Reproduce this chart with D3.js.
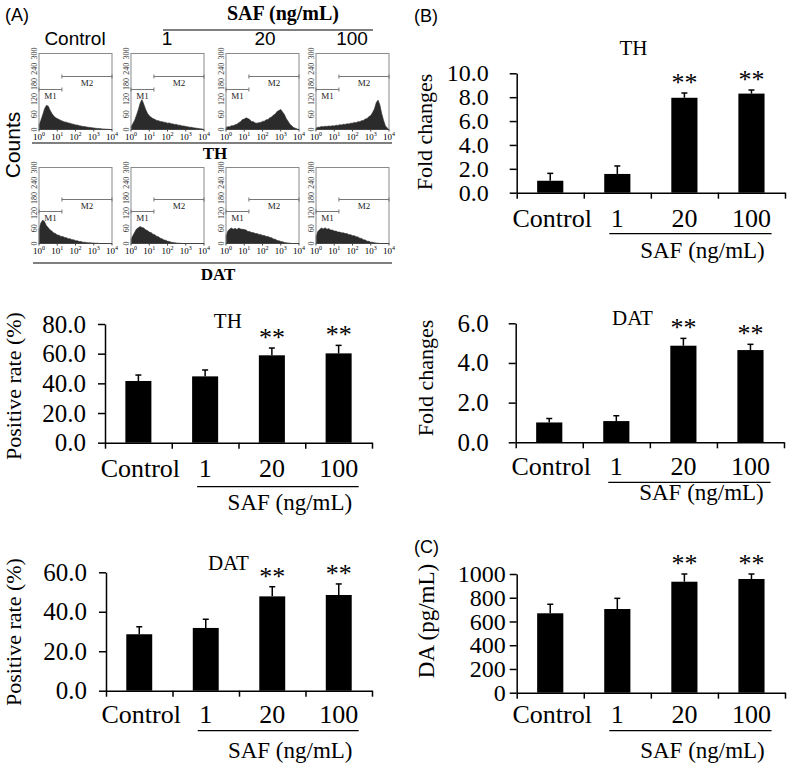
<!DOCTYPE html>
<html><head><meta charset="utf-8">
<script src="https://cdn.jsdelivr.net/npm/d3@7"></script>
<style>body{margin:0;background:#fff}svg{display:block}</style>
</head><body>
<svg id="c" width="800" height="767"></svg>
<script>
// ---------------- DATA ----------------
const categories = ["Control", "1", "20", "100"];
const doseTitle = "SAF (ng/mL)";
const sigMarks = ["", "", "**", "**"];

// Panel A bar charts: positive rate (%)
const thRateMean = [41.6, 44.7, 58.9, 60.2];
const thRateErr  = [4.0, 4.3, 4.9, 5.4];
const datRateMean = [28.6, 31.8, 47.8, 48.5];
const datRateErr  = [3.8, 4.4, 4.9, 5.6];
const rateTicksTH = [0, 20, 40, 60, 80];
const rateTicksDAT = [0, 20, 40, 60];

// Panel B: fold changes
const thFoldMean = [1.0, 1.57, 7.95, 8.3];
const thFoldErr  = [0.62, 0.67, 0.4, 0.3];
const datFoldMean = [1.0, 1.07, 4.87, 4.65];
const datFoldErr  = [0.2, 0.27, 0.37, 0.29];
const foldTicksTH = [0, 2, 4, 6, 8, 10];
const foldTicksDAT = [0, 2, 4, 6];

// Panel C: DA (pg/mL)
const daMean = [669, 705, 935, 958];
const daErr  = [76, 90, 65, 42];
const daTicks = [0, 200, 400, 600, 800, 1000];

// Panel A histograms (counts per log bin, bins every 0.1 decade from 10^0 to 10^4)
const binExp = d3.range(0, 41).map(i => i / 10);
const histYTicks = [0, 60, 120, 180, 240, 300];
const histXTicks = [0, 1, 2, 3, 4];
const histLabels = ["Control", "1", "20", "100"];
const gateBoundary = 18;
const thHistControl = [18,36,57,81,95,93,77,64,54,47,43,39,36,33,30,29,26,25,22,21,18,18,15,14,12,12,10,9,8,7,6,5,4,4,3,2,2,1,1,0,0];
const thHist1 = [12,23,37,56,78,104,118,100,80,64,54,48,43,40,36,35,32,31,29,28,25,26,23,22,20,20,17,17,14,14,12,11,9,9,7,6,5,4,3,2,0];
const thHist20 = [8,11,11,15,15,19,21,27,31,39,41,46,43,39,32,31,26,25,27,28,32,33,38,39,46,49,57,61,71,75,79,69,59,43,33,21,15,8,5,2,0];
const thHist100 = [6,9,9,12,11,13,12,14,13,15,14,17,16,19,18,21,20,23,22,25,25,28,27,31,31,35,36,41,43,51,55,67,81,106,116,97,63,37,15,6,0];
const datHistControl = [55,81,92,87,71,63,54,49,42,39,34,33,28,28,24,23,19,19,15,15,11,11,8,8,5,5,4,3,3,2,2,1,1,0,0,0,0,0,0,0,0];
const datHist1 = [18,31,44,57,62,67,63,61,54,51,45,43,37,35,29,27,21,19,14,13,9,8,5,4,3,2,1,1,0,0,0,0,0,0,0,0,0,0,0,0,0];
const datHist20 = [30,49,57,61,56,60,55,61,57,56,55,53,47,47,43,43,39,39,36,36,32,32,28,28,24,23,18,17,12,11,8,7,4,3,2,1,0,0,0,0,0];
const datHist100 = [28,47,55,61,57,62,56,59,53,53,49,49,45,45,42,42,39,39,35,35,31,31,27,26,21,20,15,14,9,9,5,5,3,2,1,0,0,0,0,0,0];

// ---------------- DRAWING ----------------
const svg = d3.select("#c");
const SERIF = "'Liberation Serif','Times New Roman',serif";
const SANS = "'Liberation Sans',Arial,sans-serif";

function text(g, x, y, str, size, opts = {}) {
  const t = g.append("text")
    .attr("x", x).attr("y", y)
    .attr("font-family", opts.family || SERIF)
    .attr("font-size", size)
    .attr("font-weight", opts.weight || "normal")
    .attr("text-anchor", opts.anchor || "middle")
    .attr("fill", "#000")
    .text(str);
  if (opts.rotate) t.attr("transform", `rotate(${opts.rotate},${x},${y})`);
  return t;
}

function barChart(o) {
  const g = svg.append("g");
  const x = d3.scaleBand().domain(categories).range([o.x0, o.x1]).paddingInner(0.61).paddingOuter(0.305);
  const y = d3.scaleLinear().domain([0, o.max]).range([o.yb, o.yt]);
  const xl = d3.scaleLinear().domain([0, 4]).range([o.x0, o.x1]);

  const ya = g.append("g").attr("transform", `translate(${o.x0},0)`)
    .call(d3.axisLeft(y).tickValues(o.ticks).tickFormat(d3.format(o.fmt)).tickSize(7).tickPadding(o.pad).tickSizeOuter(0));
  ya.select(".domain").attr("stroke-width", 1.5);
  ya.selectAll(".tick line").attr("stroke-width", 1.5);
  ya.selectAll(".tick text").attr("font-family", SERIF).attr("font-size", o.tickSize || 25).attr("fill", "#000");

  const xa = g.append("g").attr("transform", `translate(0,${o.yb})`)
    .call(d3.axisBottom(xl).tickValues([0, 1, 2, 3, 4]).tickFormat("").tickSize(6).tickSizeOuter(0));
  xa.select(".domain").attr("stroke-width", 1.5);
  xa.selectAll(".tick line").attr("stroke-width", 1.5);

  g.selectAll("rect.bar").data(o.mean).join("rect").attr("class", "bar")
    .attr("x", (d, i) => x(categories[i])).attr("y", d => y(d))
    .attr("width", x.bandwidth()).attr("height", d => o.yb - y(d)).attr("fill", "#000");

  const cx = i => x(categories[i]) + x.bandwidth() / 2;
  g.selectAll("line.err").data(o.mean).join("line").attr("class", "err")
    .attr("x1", (d, i) => cx(i)).attr("x2", (d, i) => cx(i))
    .attr("y1", d => y(d)).attr("y2", (d, i) => y(d + o.err[i]))
    .attr("stroke", "#000").attr("stroke-width", 1.5);
  g.selectAll("line.cap").data(o.mean).join("line").attr("class", "cap")
    .attr("x1", (d, i) => cx(i) - 3).attr("x2", (d, i) => cx(i) + 3)
    .attr("y1", (d, i) => y(d + o.err[i])).attr("y2", (d, i) => y(d + o.err[i]))
    .attr("stroke", "#000").attr("stroke-width", 1.5);

  g.selectAll("text.sig").data(sigMarks).join("text").attr("class", "sig")
    .attr("x", (d, i) => cx(i)).attr("y", (d, i) => y(o.mean[i] + o.err[i]) - 2)
    .attr("text-anchor", "middle").attr("font-family", SERIF).attr("font-size", 26)
    .text(d => d);

  categories.forEach((c, i) => text(g, cx(i) + (i === 0 ? 2 : 0), o.yb + o.catDy, c, 26));
  g.append("line").attr("x1", xl(1.38)).attr("x2", xl(3.8))
    .attr("y1", o.yb + o.lineDy).attr("y2", o.yb + o.lineDy).attr("stroke", "#000").attr("stroke-width", 1.2);
  text(g, xl(2.77), o.yb + o.safDy, doseTitle, 23);
  if (o.title) text(g, xl(o.titleX), o.titleY, o.title, 21);
  text(g, o.labX, o.labY, o.label, o.labSize || 22, { rotate: -90 });
}

// Panel A bars
barChart({ x0: 105, x1: 372, yb: 442.7, yt: 324, max: 80, ticks: rateTicksTH, fmt: ".1f", pad: 12,
  mean: thRateMean, err: thRateErr, catDy: 34, lineDy: 44, safDy: 67, title: "TH", titleX: 1.84, titleY: 328,
  label: "Positive rate (%)", labX: 21, labY: 386 });
barChart({ x0: 106, x1: 372, yb: 690.7, yt: 572.3, max: 60, ticks: rateTicksDAT, fmt: ".1f", pad: 12,
  mean: datRateMean, err: datRateErr, catDy: 32, lineDy: 40, safDy: 67, title: "DAT", titleX: 1.84, titleY: 570,
  label: "Positive rate (%)", labX: 21, labY: 632 });
// Panel B bars
barChart({ x0: 516.7, x1: 785, yb: 192.7, yt: 73.3, max: 10, ticks: foldTicksTH, fmt: ".1f", pad: 21, tickSize: 24,
  mean: thFoldMean, err: thFoldErr, catDy: 34, lineDy: 41, safDy: 65, title: "TH", titleX: 1.74, titleY: 55,
  label: "Fold changes", labX: 432, labY: 132 });
barChart({ x0: 515.7, x1: 784, yb: 442.3, yt: 323.3, max: 6, ticks: foldTicksDAT, fmt: ".1f", pad: 20,
  mean: datFoldMean, err: datFoldErr, catDy: 33, lineDy: 40, safDy: 58, title: "DAT", titleX: 1.74, titleY: 325,
  label: "Fold changes", labX: 433, labY: 378 });
// Panel C
barChart({ x0: 516.7, x1: 785, yb: 692.7, yt: 574, max: 1000, ticks: daTicks, fmt: "d", pad: 4, tickSize: 24,
  mean: daMean, err: daErr, catDy: 30, lineDy: 38, safDy: 65, title: null,
  label: "DA (pg/mL)", labX: 434, labY: 621, labSize: 23 });

// Panel labels
text(svg, 5, 21, "(A)", 18, { family: SANS, anchor: "start" });
text(svg, 414, 22, "(B)", 18, { family: SANS, anchor: "start" });
text(svg, 414, 553, "(C)", 18, { family: SANS, anchor: "start" });

// Panel A histograms
const boxLefts = [39, 131, 226, 316];
const boxW = 73, boxH = 76;
function hist(L, T, data, m1dy, m2dy) {
  const g = svg.append("g");
  const x = d3.scaleLog().domain([1, 1e4]).range([L, L + boxW]);
  const y = d3.scaleLinear().domain([0, 300]).range([T + boxH, T]);
  const area = d3.area().x((d, i) => x(Math.pow(10, binExp[i]))).y0(T + boxH).y1(d => y(d));
  g.append("path").datum(data).attr("d", area).attr("fill", "#2b2b2b").attr("stroke", "#2b2b2b").attr("stroke-width", 0.6);
  g.append("rect").attr("x", L).attr("y", T).attr("width", boxW).attr("height", boxH)
    .attr("fill", "none").attr("stroke", "#8a8a8a").attr("stroke-width", 1);
  g.append("line").attr("x1", L).attr("x2", L + boxW).attr("y1", T + boxH).attr("y2", T + boxH).attr("stroke", "#444").attr("stroke-width", 1);
  histYTicks.forEach(t => {
    text(g, L - 2, y(t), t, 8, { rotate: -90 }).attr("fill", "#333");
  });
  histXTicks.forEach(k => {
    const xp = x(Math.pow(10, k));
    g.append("line").attr("x1", xp).attr("x2", xp).attr("y1", T + boxH).attr("y2", T + boxH + 2).attr("stroke", "#444");
    const t = text(g, xp, T + boxH + 10, "10", 9);
    t.append("tspan").attr("dy", -4).attr("font-size", 6).text(k);
  });
  const gx = x(gateBoundary);
  const gates = [[L, gx, T + m1dy, "M1"], [gx, L + boxW, T + m2dy, "M2"]];
  gates.forEach(([a, b, yy, lab]) => {
    g.append("line").attr("x1", a).attr("x2", b).attr("y1", yy).attr("y2", yy).attr("stroke", "#777").attr("stroke-width", 1);
    [a, b].forEach(e => g.append("line").attr("x1", e).attr("x2", e).attr("y1", yy - 2).attr("y2", yy + 2).attr("stroke", "#777"));
    text(g, (a + b) / 2, yy + 9, lab, 9).attr("fill", "#222");
  });
}
const thHists = [thHistControl, thHist1, thHist20, thHist100];
const datHists = [datHistControl, datHist1, datHist20, datHist100];
thHists.forEach((d, i) => hist(boxLefts[i], 53.5, d, 36, 23));
datHists.forEach((d, i) => hist(boxLefts[i], 167.5, d, 44, 32));

// Panel A headers
text(svg, 283, 20, doseTitle, 20, { weight: "bold" });
svg.append("line").attr("x1", 163).attr("x2", 373).attr("y1", 30).attr("y2", 30).attr("stroke", "#000").attr("stroke-width", 1.2);
const headerX = [75, 167, 265, 352];
histLabels.forEach((c, i) => text(svg, headerX[i], 45, c, 19, { family: SANS }));
svg.append("line").attr("x1", 32).attr("x2", 392).attr("y1", 143).attr("y2", 143).attr("stroke", "#000").attr("stroke-width", 1.2);
svg.append("line").attr("x1", 33).attr("x2", 392).attr("y1", 263).attr("y2", 263).attr("stroke", "#000").attr("stroke-width", 1.2);
text(svg, 215, 159, "TH", 17, { weight: "bold" });
text(svg, 218, 280, "DAT", 17, { weight: "bold" });
text(svg, 20, 145, "Counts", 21, { family: SANS, rotate: -90 });
</script>
</body></html>
